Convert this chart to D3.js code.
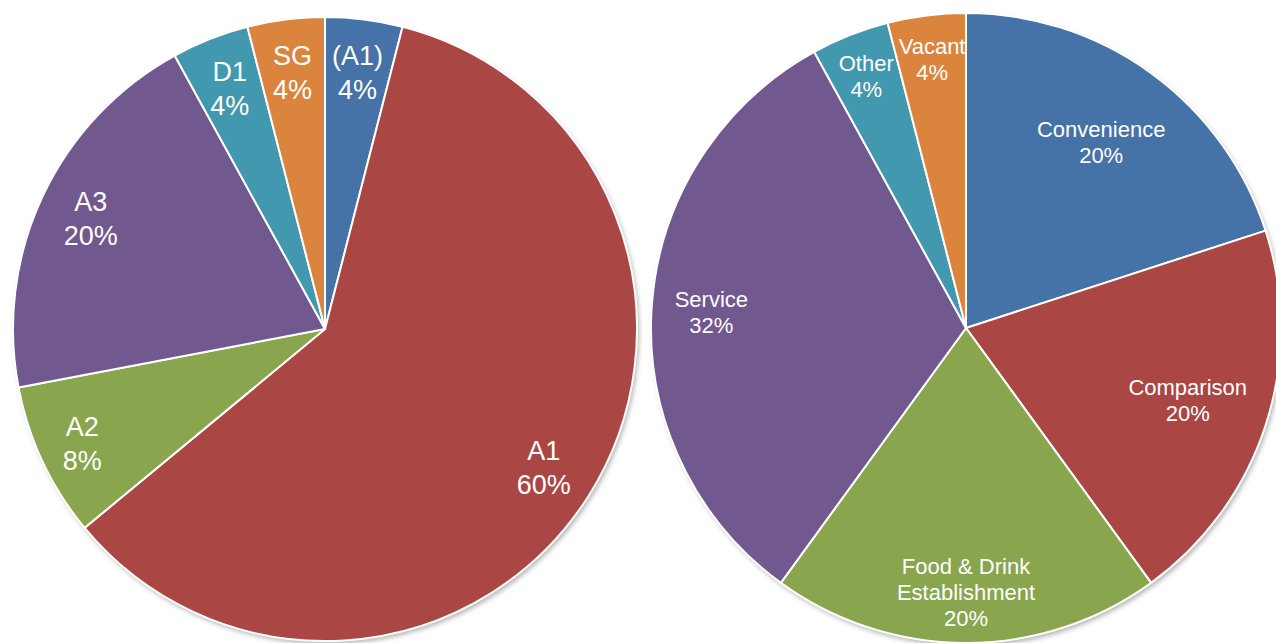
<!DOCTYPE html>
<meta charset="utf-8">
<title>Use class pies</title>
<style>
body { margin: 0; background: #fff; }
.slices path { stroke: #fff; stroke-width: 2px; }
.labels text { fill: #fff; font-family: "Liberation Sans", Arial, sans-serif; text-anchor: middle; }
</style>
<svg width="1276" height="643"></svg>
<script src="https://d3js.org/d3.v7.min.js"></script>
<script>
// left pie - use classes
var leftNames = ["(A1)", "A1", "A2", "A3", "D1", "SG"];
var leftValues = [4, 60, 8, 20, 4, 4];

// right pie - unit types
var rightNames = ["Convenience", "Comparison", "Food & Drink\nEstablishment", "Service", "Other", "Vacant"];
var rightValues = [20, 20, 20, 32, 4, 4];

var colors = ["#4572A7", "#AA4643", "#89A54E", "#71588F", "#4198AF", "#DB843D"];

// label distance from centre, as a share of the radius (excel "best fit")
var leftLabelR = [0.83, 0.83, 0.86, 0.83, 0.83, 0.83];
var rightLabelR = [0.73, 0.74, 0.84, 0.81, 0.86, 0.86];

var svg = d3.select("svg");

var defs = svg.append("defs");
var f = defs.append("filter").attr("id", "shadow")
    .attr("x", "-10%").attr("y", "-10%").attr("width", "120%").attr("height", "120%");
f.append("feDropShadow").attr("dx", 2).attr("dy", 3).attr("stdDeviation", 2.5)
    .attr("flood-color", "#000").attr("flood-opacity", 0.3);

function drawPie(cx, cy, r, names, values, labelR, fontSize, lineH) {
  var pie = d3.pie().sort(null).value(function(d) { return d; });
  var arcs = pie(values);
  var arc = d3.arc().innerRadius(0).outerRadius(r);

  var g = svg.append("g").attr("transform", "translate(" + cx + "," + cy + ")");

  g.append("circle").attr("r", r).attr("fill", "#fff").attr("filter", "url(#shadow)");

  g.append("g").attr("class", "slices")
    .selectAll("path")
    .data(arcs)
    .enter().append("path")
      .attr("d", arc)
      .attr("fill", function(d, i) { return colors[i]; });

  var lab = g.append("g").attr("class", "labels")
    .selectAll("text")
    .data(arcs)
    .enter().append("text")
      .style("font-size", fontSize + "px")
      .attr("transform", function(d, i) {
        var la = d3.arc().innerRadius(r * labelR[i]).outerRadius(r * labelR[i]);
        return "translate(" + la.centroid(d) + ")";
      });

  lab.each(function(d, i) {
    var lines = names[i].split("\n").concat([d.data + "%"]);
    var t = d3.select(this);
    lines.forEach(function(s, k) {
      t.append("tspan")
        .attr("x", 0)
        .attr("y", (k - (lines.length - 1) / 2) * lineH)
        .attr("dy", "0.35em")
        .text(s);
    });
  });
}

drawPie(325, 329, 312, leftNames, leftValues, leftLabelR, 27, 34);
drawPie(966, 328, 315, rightNames, rightValues, rightLabelR, 22, 26);
</script>
